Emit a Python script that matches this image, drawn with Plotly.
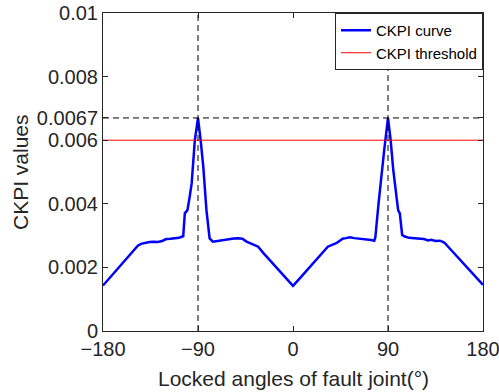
import plotly.graph_objects as go

# Locked angles (deg) and CKPI values
angles = [-180, -175, -170, -165, -160, -155, -150, -147, -144, -140, -136, -132, -128,
          -124, -120, -116, -112, -108, -105, -104, -102.5, -100, -98, -96, -93, -90,
          -87.5, -85, -82, -79, -76, -72, -68, -64, -60, -56, -52, -48, -44, -40, -36,
          -33, -28, -22, -17, -12, -6, 0, 6, 12, 17, 22, 28, 33, 37, 41, 44, 47, 50, 54,
          58, 62, 66, 70, 74, 77, 78, 81, 84, 86.4, 90, 92.5, 95, 97.5, 99.6, 101.2,
          103.4, 106, 110, 115, 120, 124, 128, 131, 135, 139, 142, 144, 147, 150, 155,
          160, 165, 170, 175, 180]
ckpi = [0.00143, 0.00162, 0.00181, 0.00200, 0.00219, 0.00238, 0.00257, 0.00268, 0.00274,
        0.00278, 0.00280, 0.00281, 0.00280, 0.00283, 0.00289, 0.00290, 0.00291, 0.00293,
        0.00297, 0.00298, 0.00370, 0.00380, 0.00420, 0.00464, 0.00600, 0.00670, 0.00600,
        0.00517, 0.00380, 0.00291, 0.00281, 0.00283, 0.00287, 0.00288, 0.00289, 0.00291,
        0.00292, 0.00290, 0.00281, 0.00275, 0.00270, 0.00265, 0.00245, 0.00223, 0.00204,
        0.00186, 0.00164, 0.00142, 0.00164, 0.00186, 0.00204, 0.00224, 0.00246, 0.00265,
        0.00271, 0.00276, 0.00283, 0.00290, 0.00292, 0.00295, 0.00292, 0.00291, 0.00290,
        0.00289, 0.00286, 0.00284, 0.00294, 0.00400, 0.00506, 0.00569, 0.00670, 0.00600,
        0.00506, 0.00440, 0.00380, 0.00370, 0.00302, 0.00297, 0.00293, 0.00292, 0.00291,
        0.00289, 0.00285, 0.00287, 0.00283, 0.00284, 0.00280, 0.00276, 0.00265, 0.00254,
        0.00236, 0.00218, 0.00200, 0.00181, 0.00163, 0.00145]

threshold = 0.006
peak_value = 0.0067
peak_angles = [-90, 90]

x_range = [-180, 180]
y_range = [0, 0.01]
x_ticks = [-180, -90, 0, 90, 180]
y_ticks = [0, 0.002, 0.004, 0.006, 0.0067, 0.008, 0.01]
y_tick_text = ["0", "0.002", "0.004", "0.006", "0.0067", "0.008", "0.01"]

FONT = "Liberation Sans, Arial, sans-serif"
AX = "#262626"

W, H = 499, 392
ML, MR, MT, MB = 103, 16, 13, 61
pw = W - ML - MR
ph = H - MT - MB

fig = go.Figure()
fig.add_trace(go.Scatter(x=angles, y=ckpi, mode="lines", name="CKPI curve",
                         line=dict(color="#0000FF", width=2.5)))
fig.add_trace(go.Scatter(x=x_range, y=[threshold, threshold], mode="lines",
                         name="CKPI threshold", line=dict(color="#FF0000", width=1)))
fig.add_trace(go.Scatter(x=x_range, y=[peak_value, peak_value], mode="lines",
                         showlegend=False, line=dict(color="black", width=1, dash="6px,4px")))
for a in peak_angles:
    fig.add_trace(go.Scatter(x=[a, a], y=y_range, mode="lines", showlegend=False,
                             line=dict(color="black", width=1, dash="6px,4px")))

axis_common = dict(showline=True, linecolor=AX, linewidth=1, mirror="allticks",
                   ticks="inside", ticklen=5, tickcolor=AX, showgrid=False,
                   zeroline=False, automargin=False, ticklabeloverflow="allow",
                   tickfont=dict(family=FONT, size=20, color=AX))
fig.update_xaxes(range=x_range, tickvals=x_ticks, **axis_common)
fig.update_yaxes(range=y_range, tickvals=y_ticks, ticktext=y_tick_text, **axis_common)

fig.update_layout(
    width=W, height=H,
    margin=dict(l=ML, r=MR, t=MT, b=MB, autoexpand=False),
    plot_bgcolor="white", paper_bgcolor="white",
    font=dict(family=FONT, color=AX),
    showlegend=True,
    legend=dict(x=1, y=1, xanchor="right", yanchor="top", bgcolor="white",
                bordercolor=AX, borderwidth=1, font=dict(family=FONT, size=15, color="black"),
                tracegroupgap=0, itemwidth=30),
    annotations=[
        dict(text="Locked angles of fault joint(°)", x=0.5, xref="paper",
             y=(MT + ph - 378) / ph if False else -(378 - (MT + ph)) / ph, yref="paper",
             xanchor="center", yanchor="middle",
             showarrow=False, font=dict(family=FONT, size=21, color=AX)),
        dict(text="CKPI values", x=(20 - ML) / pw, xref="paper", y=0.5, yref="paper",
             xanchor="center", yanchor="middle",
             showarrow=False, textangle=-90, font=dict(family=FONT, size=21, color=AX)),
    ],
)

fig.write_html("out.html")
